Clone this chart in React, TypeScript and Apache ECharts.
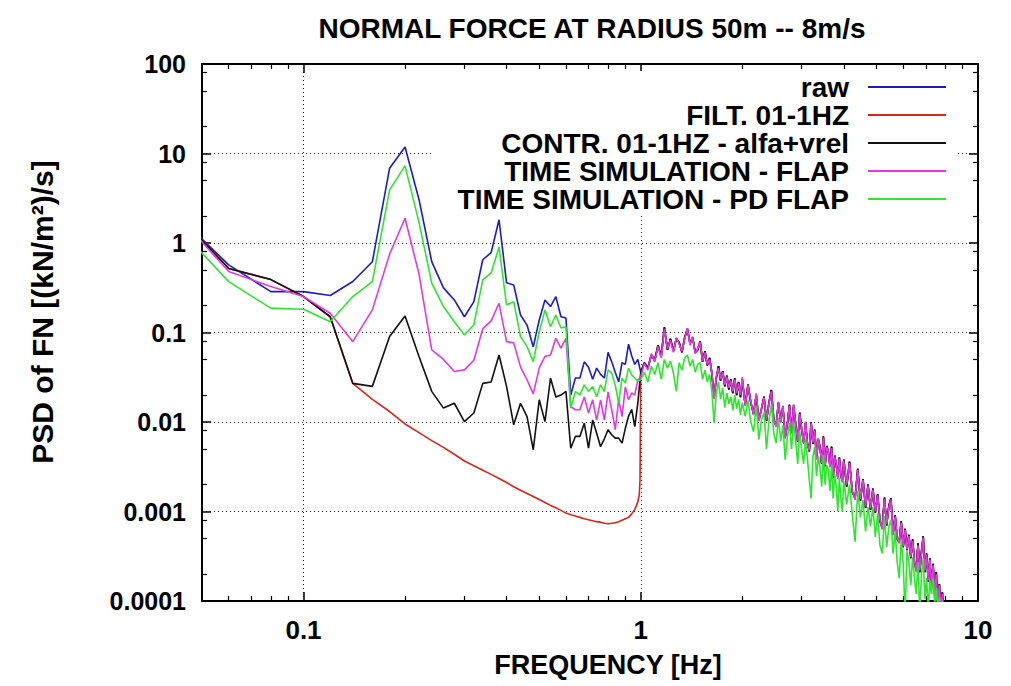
import React, { useEffect, useRef } from "react";
import * as echarts from "echarts";

// ---------- data ----------
const lfFreq = [
  0.04, 0.06, 0.08, 0.10, 0.12, 0.14, 0.16, 0.18, 0.20, 0.22,
  0.24, 0.26, 0.28, 0.30, 0.32, 0.34, 0.36, 0.38, 0.40, 0.42,
  0.44, 0.46, 0.48, 0.50, 0.52, 0.54, 0.56, 0.58, 0.60, 0.62,
  0.64, 0.66, 0.68, 0.70, 0.72, 0.74, 0.76, 0.78, 0.80, 0.82,
  0.84, 0.86, 0.88, 0.90, 0.92, 0.94, 0.96, 0.98,
];

const rawLF = [
  2.5, 0.57, 0.286, 0.286, 0.259, 0.371, 0.617, 6.85, 11.8, 3.06,
  0.62, 0.315, 0.231, 0.150, 0.221, 0.65, 0.78, 1.82, 0.359, 0.34,
  0.157, 0.121, 0.069, 0.138, 0.231, 0.195, 0.252, 0.150, 0.145, 0.020,
  0.031, 0.031, 0.047, 0.041, 0.030, 0.040, 0.034, 0.031, 0.060, 0.047,
  0.036, 0.028, 0.046, 0.044, 0.074, 0.055, 0.044, 0.050,
];

const filtLF = [
  2.6, 0.52, 0.39, 0.252, 0.150, 0.027, 0.0179, 0.0131, 0.0095, 0.0076,
  0.0062, 0.0052, 0.00436, 0.00367, 0.00324, 0.00289, 0.0026, 0.00234, 0.00211, 0.00189,
  0.00173, 0.00159, 0.00147, 0.00136, 0.00126, 0.00117, 0.0011, 0.00103, 0.00096, 0.00092,
  0.00089, 0.00086, 0.00083, 0.00081, 0.00079, 0.00077, 0.00076, 0.00074, 0.00073, 0.00074,
  0.00075, 0.00077, 0.0008, 0.00083, 0.00086, 0.00094, 0.00105, 0.00128,
];
const filtEdgeFreq = [0.99, 0.995];
const filtEdge = [0.00153, 0.0023];

const contrLF = [
  2.6, 0.52, 0.39, 0.252, 0.150, 0.027, 0.025, 0.090, 0.153, 0.054,
  0.022, 0.0143, 0.0162, 0.0101, 0.0126, 0.027, 0.028, 0.056, 0.025, 0.0093,
  0.0162, 0.0115, 0.0049, 0.0177, 0.0101, 0.031, 0.019, 0.020, 0.022, 0.0051,
  0.0069, 0.0069, 0.0097, 0.0051, 0.0105, 0.0075, 0.0053, 0.0065, 0.0082, 0.0072,
  0.0066, 0.0066, 0.0058, 0.0085, 0.0116, 0.0138, 0.0089, 0.0162,
];

const flapLF = [
  2.6, 0.48, 0.326, 0.252, 0.164, 0.079, 0.179, 0.75, 1.89, 0.45,
  0.064, 0.050, 0.0366, 0.0382, 0.049, 0.110, 0.135, 0.212, 0.079, 0.0766,
  0.0413, 0.0295, 0.0206, 0.040, 0.054, 0.056, 0.086, 0.067, 0.086, 0.0149,
  0.0137, 0.0137, 0.019, 0.0126, 0.0177, 0.0105, 0.0177, 0.0105, 0.0217, 0.0137,
  0.0082, 0.0177, 0.0115, 0.0247, 0.0177, 0.0211, 0.020, 0.0295,
];

const pdLF = [
  1.9, 0.37, 0.187, 0.182, 0.132, 0.252, 0.37, 3.92, 7.27, 1.7,
  0.356, 0.195, 0.132, 0.094, 0.122, 0.387, 0.463, 0.9, 0.203, 0.221,
  0.090, 0.0696, 0.0473, 0.102, 0.179, 0.116, 0.157, 0.1125, 0.116, 0.0143,
  0.0219, 0.0201, 0.026, 0.0219, 0.0249, 0.0192, 0.026, 0.0219, 0.0382, 0.0351,
  0.026, 0.0162, 0.0309, 0.0272, 0.040, 0.0336, 0.031, 0.0283,
];

const hfFreq = [
  1.000, 1.025, 1.050, 1.075, 1.100, 1.125, 1.150, 1.175, 1.200, 1.225,
  1.250, 1.275, 1.300, 1.325, 1.350, 1.375, 1.400, 1.425, 1.450, 1.475,
  1.500, 1.525, 1.550, 1.575, 1.600, 1.625, 1.650, 1.675, 1.700, 1.725,
  1.750, 1.775, 1.800, 1.825, 1.850, 1.875, 1.900, 1.925, 1.950, 1.975,
  2.000, 2.04, 2.08, 2.12, 2.16, 2.20, 2.24, 2.28, 2.32, 2.36,
  2.40, 2.44, 2.48, 2.52, 2.56, 2.60, 2.64, 2.68, 2.72, 2.76,
  2.80, 2.84, 2.88, 2.92, 2.96, 3.00, 3.04, 3.08, 3.12, 3.16,
  3.20, 3.24, 3.28, 3.32, 3.36, 3.40, 3.44, 3.48, 3.52, 3.56,
  3.60, 3.64, 3.68, 3.72, 3.76, 3.80, 3.84, 3.88, 3.92, 3.96,
  4.00, 4.08, 4.16, 4.24, 4.32, 4.40, 4.48, 4.56, 4.64, 4.72,
  4.80, 4.88, 4.96, 5.04, 5.12, 5.20, 5.28, 5.36, 5.44, 5.52,
  5.60, 5.68, 5.76, 5.84, 5.92, 6.00, 6.08, 6.16, 6.24, 6.32,
  6.40, 6.48, 6.56, 6.64, 6.72, 6.80, 6.88, 6.96, 7.04, 7.12,
  7.20, 7.28, 7.36, 7.44, 7.52, 7.60, 7.68, 7.76, 7.84, 7.92,
  8.00,
];

const rawHF = [
  0.036, 0.046, 0.040, 0.056, 0.049, 0.072, 0.054, 0.114, 0.064, 0.085,
  0.062, 0.086, 0.077, 0.060, 0.088, 0.110, 0.075, 0.088, 0.060, 0.064,
  0.080, 0.047, 0.062, 0.043, 0.052, 0.035, 0.019, 0.031, 0.042, 0.029,
  0.037, 0.025, 0.033, 0.023, 0.030, 0.021, 0.031, 0.020, 0.028, 0.019,
  0.0300, 0.0155, 0.0262, 0.0165, 0.0123, 0.0200, 0.0105, 0.0140, 0.0192, 0.0103,
  0.0165, 0.0228, 0.0105, 0.0091, 0.0165, 0.0100, 0.0150, 0.0067, 0.0094, 0.0156,
  0.0076, 0.0154, 0.0094, 0.0060, 0.0127, 0.0082, 0.0059, 0.0098, 0.0058, 0.0047,
  0.0100, 0.0057, 0.0082, 0.0039, 0.0064, 0.0053, 0.0034, 0.0069, 0.0032, 0.0054,
  0.0046, 0.0032, 0.0053, 0.0024, 0.0042, 0.0033, 0.0024, 0.0040, 0.0025, 0.0022,
  0.0038, 0.0019, 0.0036, 0.00165, 0.0014, 0.0030, 0.00132, 0.0023, 0.0011, 0.0020,
  0.00104, 0.0018, 0.00097, 0.00156, 0.00078, 0.00066, 0.00143, 0.0007, 0.00115, 0.0014,
  0.00056, 0.00091, 0.00049, 0.00046, 0.00078, 0.0004, 0.00064, 0.00037, 0.00055, 0.0003,
  0.00049, 0.00027, 0.00022, 0.00044, 0.00021, 0.00036, 0.00053, 0.00021, 0.00034, 0.000165,
  0.0003, 0.00014, 0.00026, 0.000118, 0.00021, 0.000094, 0.000155, 0.00008, 0.000125, 0.000065,
  0.000055,
];

const flapHF = [
  0.032, 0.045, 0.038, 0.058, 0.047, 0.070, 0.052, 0.110, 0.066, 0.082,
  0.060, 0.088, 0.074, 0.062, 0.085, 0.112, 0.072, 0.090, 0.058, 0.066,
  0.078, 0.048, 0.060, 0.044, 0.050, 0.036, 0.018, 0.032, 0.040, 0.030,
  0.036, 0.026, 0.032, 0.024, 0.029, 0.022, 0.030, 0.021, 0.027, 0.020,
  0.0317, 0.0151, 0.0256, 0.0170, 0.0119, 0.0209, 0.0102, 0.0143, 0.0187, 0.0106,
  0.0160, 0.0220, 0.0108, 0.0088, 0.0169, 0.0097, 0.0152, 0.0065, 0.0097, 0.0152,
  0.0074, 0.0158, 0.0091, 0.0062, 0.0123, 0.0085, 0.0057, 0.0101, 0.0056, 0.0048,
  0.0097, 0.0059, 0.0080, 0.0038, 0.0066, 0.0051, 0.0035, 0.0067, 0.0033, 0.0052,
  0.0047, 0.0031, 0.0051, 0.0025, 0.0041, 0.0034, 0.0023, 0.0039, 0.0026, 0.0021,
  0.0037, 0.0020, 0.0035, 0.0017, 0.00134, 0.0029, 0.00137, 0.00225, 0.00114, 0.00194,
  0.00108, 0.00175, 0.0010, 0.00151, 0.0008, 0.00063, 0.00139, 0.00072, 0.00111, 0.00135,
  0.00054, 0.00088, 0.00051, 0.00044, 0.00075, 0.00041, 0.00062, 0.00038, 0.00053, 0.00031,
  0.00047, 0.00028, 0.00021, 0.00042, 0.00022, 0.00035, 0.00051, 0.00022, 0.00033, 0.00017,
  0.00029, 0.000147, 0.00025, 0.000122, 0.0002, 0.0000976, 0.00015, 0.000083, 0.00012, 0.000067,
  0.000056,
];

const pdHF = [
  0.030, 0.036, 0.028, 0.042, 0.034, 0.046, 0.030, 0.050, 0.040, 0.048,
  0.035, 0.022, 0.046, 0.038, 0.052, 0.056, 0.042, 0.050, 0.036, 0.044,
  0.046, 0.030, 0.038, 0.028, 0.034, 0.022, 0.0098, 0.021, 0.028, 0.018,
  0.024, 0.0145, 0.021, 0.016, 0.019, 0.0135, 0.020, 0.014, 0.018, 0.012,
  0.0165, 0.0116, 0.0174, 0.0100, 0.0078, 0.0152, 0.0064, 0.0106, 0.0128, 0.0050,
  0.0104, 0.0155, 0.0075, 0.0058, 0.0112, 0.0061, 0.0091, 0.0038, 0.0066, 0.0098,
  0.0050, 0.0100, 0.0061, 0.0034, 0.0079, 0.0049, 0.0034, 0.0065, 0.0039, 0.0023,
  0.0014, 0.0041, 0.0053, 0.0025, 0.0042, 0.0031, 0.0019, 0.0043, 0.0020, 0.0033,
  0.0029, 0.0017, 0.0033, 0.0014, 0.0026, 0.0019, 0.0010, 0.0024, 0.0014, 0.0010,
  0.0022, 0.0012, 0.0020, 0.00092, 0.00046, 0.0017, 0.00086, 0.00135, 0.0006, 0.00112,
  0.00068, 0.00112, 0.00052, 0.00094, 0.00042, 0.00034, 0.00089, 0.0004, 0.00067, 0.00081,
  0.00034, 0.0006, 0.00027, 0.00018, 0.00048, 0.00026, 0.000072, 0.00036, 0.00027, 0.00015,
  0.00031, 0.00018, 0.00012, 0.00027, 0.000072, 0.0002, 0.0003, 0.000105, 0.00018, 0.000078,
  0.00017, 0.00012, 0.00018, 0.00009, 0.00014, 0.00008, 0.00011, 0.00007, 0.0001, 0.00006,
  0.00004,
];

const seriesNames = [
  "raw",
  "FILT. 01-1HZ",
  "CONTR. 01-1HZ - alfa+vrel",
  "TIME SIMULATION - FLAP",
  "TIME SIMULATION - PD FLAP",
];
const seriesColors = ["#1c1cc4", "#d8261c", "#111111", "#e03ae0", "#2ee62e"];

const titleText = "NORMAL FORCE AT RADIUS 50m -- 8m/s";
const xTitle = "FREQUENCY [Hz]";
const yTitle = "PSD of FN [(kN/m²)/s]";

const xTickValues = [0.1, 1, 10];
const xTickLabels = ["0.1", "1", "10"];
const yTickValues = [0.0001, 0.001, 0.01, 0.1, 1, 10, 100];
const yTickLabels = ["0.0001", "0.001", "0.01", "0.1", "1", "10", "100"];
const xMinorTicks = [
  0.06, 0.07, 0.08, 0.09, 0.2, 0.3, 0.4, 0.5, 0.6, 0.7, 0.8, 0.9,
  2, 3, 4, 5, 6, 7, 8, 9,
];
const yMinorTicks = [
  0.0002, 0.0005, 0.0008, 0.002, 0.005, 0.008, 0.02, 0.05, 0.08,
  0.2, 0.5, 0.8, 2, 5, 8, 20, 50, 80,
];

// ---------- helpers ----------
const zip = (xs: number[], ys: number[]) => xs.map((x, i) => [x, ys[i]]);
const makeFmt = (vals: number[], labels: string[]) => (v: number) => {
  const idx = vals.findIndex((t) => Math.abs(Math.log10(t) - Math.log10(v)) < 1e-6);
  return idx >= 0 ? labels[idx] : "";
};

const FONT = '"Liberation Sans", Arial, Helvetica, sans-serif';

export default function App() {
  const ref = useRef<HTMLDivElement>(null);

  useEffect(() => {
    if (!ref.current) return;
    const chart = echarts.init(ref.current, undefined, { renderer: "svg" });

    const seriesData = [
      [...zip(lfFreq, rawLF), ...zip(hfFreq, rawHF)],
      [...zip(lfFreq, filtLF), ...zip(filtEdgeFreq, filtEdge), ...zip(hfFreq, rawHF)],
      [...zip(lfFreq, contrLF), ...zip(hfFreq, rawHF)],
      [...zip(lfFreq, flapLF), ...zip(hfFreq, flapHF)],
      [...zip(lfFreq, pdLF), ...zip(hfFreq, pdHF)],
    ];

    const baseX = { type: "log", logBase: 10, min: 0.05, max: 10, gridIndex: 0 };
    const baseY = { type: "log", logBase: 10, min: 0.0001, max: 100, gridIndex: 0 };
    const border = { show: true, onZero: false, lineStyle: { color: "#000", width: 2 } };
    const majorTick = { show: true, inside: true, length: 9, lineStyle: { color: "#000", width: 1.5 } };
    const gridLine = { show: true, lineStyle: { color: "#222", width: 1, type: [1, 3] } };
    const labelStyle = { color: "#000", fontFamily: FONT, fontWeight: "bold", fontSize: 26 };

    const minorTick = (vals: number[]) => ({
      show: true,
      inside: true,
      length: 5,
      customValues: vals,
      lineStyle: { color: "#000", width: 1.2 },
    });

    const option: any = {
      animation: false,
      backgroundColor: "#ffffff",
      grid: { left: 202, right: 33, top: 64, bottom: 85, containLabel: false },
      xAxis: [
        {
          ...baseX,
          position: "bottom",
          axisLine: border,
          axisTick: majorTick,
          axisLabel: { ...labelStyle, margin: 16, formatter: makeFmt(xTickValues, xTickLabels), showMinLabel: false },
          splitLine: gridLine,
        },
        { ...baseX, position: "top", axisLine: border, axisTick: majorTick, axisLabel: { show: false }, splitLine: { show: false } },
        { ...baseX, position: "bottom", axisLine: { show: false }, axisTick: minorTick(xMinorTicks), axisLabel: { show: false }, splitLine: { show: false } },
        { ...baseX, position: "top", axisLine: { show: false }, axisTick: minorTick(xMinorTicks), axisLabel: { show: false }, splitLine: { show: false } },
      ],
      yAxis: [
        {
          ...baseY,
          position: "left",
          axisLine: border,
          axisTick: majorTick,
          axisLabel: { ...labelStyle, fontSize: 25, margin: 16, formatter: makeFmt(yTickValues, yTickLabels) },
          splitLine: gridLine,
        },
        { ...baseY, position: "right", axisLine: border, axisTick: majorTick, axisLabel: { show: false }, splitLine: { show: false } },
        { ...baseY, position: "left", axisLine: { show: false }, axisTick: minorTick(yMinorTicks), axisLabel: { show: false }, splitLine: { show: false } },
        { ...baseY, position: "right", axisLine: { show: false }, axisTick: minorTick(yMinorTicks), axisLabel: { show: false }, splitLine: { show: false } },
      ],
      legend: {
        orient: "vertical",
        right: 56,
        top: 71,
        align: "right",
        itemWidth: 78,
        itemHeight: 10,
        itemGap: 0,
        padding: [2, 8, 2, 25],
        backgroundColor: "#ffffff",
        selectedMode: false,
        itemStyle: { opacity: 0, borderWidth: 0 },
        textStyle: {
          color: "#000",
          fontFamily: FONT,
          fontWeight: "bold",
          fontSize: 28,
          lineHeight: 28,
          padding: [0, 14, 0, 0],
        },
        data: seriesNames,
      },
      graphic: [
        {
          type: "text",
          x: 592,
          y: 28,
          style: {
            text: titleText,
            font: `bold 28px ${FONT}`,
            fill: "#000",
            align: "center",
            verticalAlign: "middle",
            textAlign: "center",
            textVerticalAlign: "middle",
          },
        },
        {
          type: "text",
          x: 608,
          y: 665,
          style: {
            text: xTitle,
            font: `bold 27px ${FONT}`,
            fill: "#000",
            align: "center",
            verticalAlign: "middle",
            textAlign: "center",
            textVerticalAlign: "middle",
          },
        },
        {
          type: "text",
          x: 42,
          y: 312,
          rotation: Math.PI / 2,
          style: {
            text: yTitle,
            font: `bold 30px ${FONT}`,
            fill: "#000",
            align: "center",
            verticalAlign: "middle",
            textAlign: "center",
            textVerticalAlign: "middle",
          },
        },
      ],
      series: seriesNames.map((name, i) => ({
        name,
        type: "line",
        xAxisIndex: 0,
        yAxisIndex: 0,
        data: seriesData[i],
        symbol: "none",
        showSymbol: false,
        clip: true,
        lineStyle: { color: seriesColors[i], width: 1.6 },
        itemStyle: { color: seriesColors[i] },
        emphasis: { disabled: true },
      })),
    };

    chart.setOption(option);
    return () => chart.dispose();
  }, []);

  return (
    <div
      ref={ref}
      style={{ position: "absolute", left: 0, top: 0, width: 1011, height: 686, background: "#fff" }}
    />
  );
}
